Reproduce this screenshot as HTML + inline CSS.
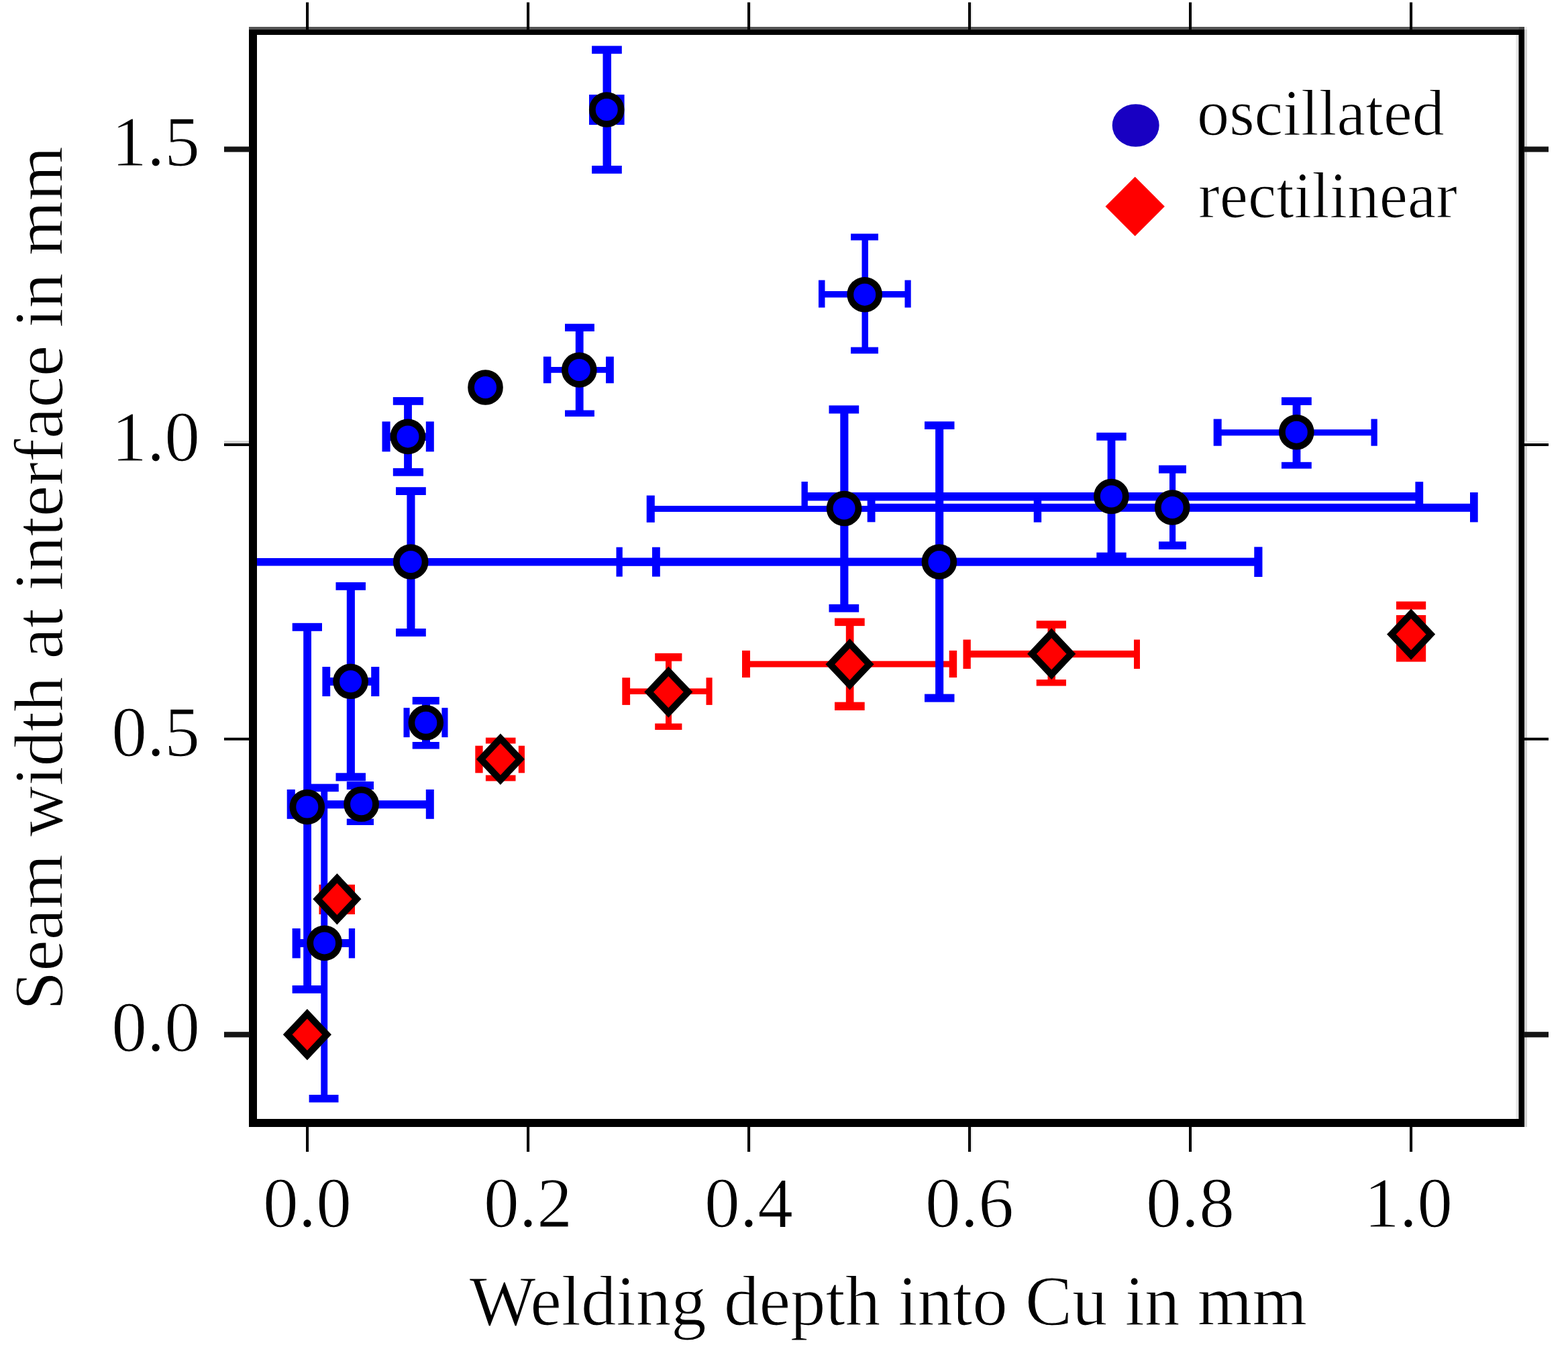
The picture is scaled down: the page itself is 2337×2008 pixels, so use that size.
<!DOCTYPE html>
<html lang="en">
<head>
<meta charset="utf-8">
<title>Seam width at interface vs welding depth into Cu</title>
<style>
html,body{margin:0;padding:0;background:#ffffff;}
body{width:2337px;height:2008px;overflow:hidden;}
svg{display:block;}
</style>
</head>
<body>
<svg width="2337" height="2008" viewBox="0 0 2337 2008">
<rect x="0" y="0" width="2337" height="2008" fill="#ffffff"/>
<g id="errorbars-red">
<rect x="475.5" y="1318.7" width="53.5" height="44.3" fill="#ff0000"/>
<rect x="708.3" y="1111.7" width="11.3" height="40.6" fill="#ff0000"/>
<rect x="772.8" y="1111.7" width="9.2" height="40.6" fill="#ff0000"/>
<rect x="723.9" y="1099.6" width="44.6" height="8.9" fill="#ff0000"/>
<rect x="723.9" y="1155.5" width="44.6" height="8.9" fill="#ff0000"/>
<rect x="712.0" y="1127.0" width="66.0" height="10.0" fill="#ff0000"/>
<rect x="741.0" y="1103.0" width="10.0" height="57.0" fill="#ff0000"/>
<rect x="992.0" y="978.0" width="9.0" height="106.0" fill="#ff0000"/>
<rect x="976.2" y="973.8" width="40.2" height="11.8" fill="#ff0000"/>
<rect x="976.2" y="1078.5" width="40.2" height="9.5" fill="#ff0000"/>
<rect x="933.0" y="1026.3" width="125.0" height="8.7" fill="#ff0000"/>
<rect x="927.3" y="1010.2" width="11.8" height="40.7" fill="#ff0000"/>
<rect x="1052.5" y="1010.2" width="9.1" height="40.7" fill="#ff0000"/>
<rect x="1260.8" y="927.0" width="11.7" height="126.0" fill="#ff0000"/>
<rect x="1244.0" y="921.5" width="44.7" height="11.6" fill="#ff0000"/>
<rect x="1244.0" y="1046.6" width="44.7" height="12.3" fill="#ff0000"/>
<rect x="1112.0" y="985.4" width="308.0" height="9.2" fill="#ff0000"/>
<rect x="1106.0" y="969.8" width="12.0" height="40.2" fill="#ff0000"/>
<rect x="1414.7" y="969.8" width="11.5" height="40.2" fill="#ff0000"/>
<rect x="1561.5" y="931.0" width="11.5" height="87.0" fill="#ff0000"/>
<rect x="1544.7" y="925.3" width="44.3" height="11.5" fill="#ff0000"/>
<rect x="1544.7" y="1013.0" width="44.3" height="9.5" fill="#ff0000"/>
<rect x="1441.0" y="969.8" width="254.0" height="10.4" fill="#ff0000"/>
<rect x="1435.5" y="953.5" width="11.3" height="43.5" fill="#ff0000"/>
<rect x="1690.0" y="953.5" width="9.0" height="43.5" fill="#ff0000"/>
<rect x="2081.0" y="896.6" width="44.2" height="12.0" fill="#ff0000"/>
<rect x="2081.0" y="917.0" width="44.2" height="69.5" fill="#ff0000"/>
</g>
<g id="errorbars-blue">
<rect x="452.2" y="934.0" width="11.8" height="541.0" fill="#0000ff"/>
<rect x="435.7" y="928.8" width="44.3" height="12.0" fill="#0000ff"/>
<rect x="435.6" y="1469.0" width="44.4" height="11.8" fill="#0000ff"/>
<rect x="433.0" y="1193.2" width="208.0" height="12.1" fill="#0000ff"/>
<rect x="427.7" y="1176.9" width="12.1" height="43.9" fill="#0000ff"/>
<rect x="634.8" y="1176.9" width="12.0" height="43.9" fill="#0000ff"/>
<rect x="531.6" y="1170.0" width="12.0" height="56.0" fill="#0000ff"/>
<rect x="516.8" y="1165.0" width="40.2" height="12.0" fill="#0000ff"/>
<rect x="516.8" y="1220.5" width="40.2" height="9.5" fill="#0000ff"/>
<rect x="478.3" y="1174.0" width="9.9" height="464.0" fill="#0000ff"/>
<rect x="462.0" y="1168.6" width="42.8" height="11.6" fill="#0000ff"/>
<rect x="460.6" y="1632.0" width="43.9" height="11.4" fill="#0000ff"/>
<rect x="441.0" y="1400.0" width="84.0" height="12.0" fill="#0000ff"/>
<rect x="435.6" y="1384.0" width="12.1" height="44.4" fill="#0000ff"/>
<rect x="519.8" y="1384.0" width="9.3" height="44.4" fill="#0000ff"/>
<rect x="516.8" y="874.0" width="12.1" height="284.0" fill="#0000ff"/>
<rect x="500.5" y="868.0" width="44.5" height="11.8" fill="#0000ff"/>
<rect x="500.5" y="1152.3" width="44.5" height="12.1" fill="#0000ff"/>
<rect x="486.0" y="1010.0" width="73.0" height="12.0" fill="#0000ff"/>
<rect x="480.4" y="994.0" width="11.8" height="44.0" fill="#0000ff"/>
<rect x="553.2" y="994.0" width="12.1" height="44.0" fill="#0000ff"/>
<rect x="629.0" y="1044.0" width="12.0" height="67.0" fill="#0000ff"/>
<rect x="614.7" y="1038.9" width="40.1" height="11.3" fill="#0000ff"/>
<rect x="614.7" y="1106.0" width="40.1" height="10.5" fill="#0000ff"/>
<rect x="606.0" y="1072.0" width="57.0" height="11.0" fill="#0000ff"/>
<rect x="601.5" y="1055.2" width="9.1" height="43.9" fill="#0000ff"/>
<rect x="658.4" y="1055.2" width="9.1" height="43.9" fill="#0000ff"/>
<rect x="602.1" y="598.0" width="11.8" height="106.0" fill="#0000ff"/>
<rect x="585.8" y="592.0" width="45.2" height="11.8" fill="#0000ff"/>
<rect x="585.8" y="697.9" width="45.2" height="11.8" fill="#0000ff"/>
<rect x="575.0" y="645.5" width="66.0" height="11.5" fill="#0000ff"/>
<rect x="569.5" y="628.4" width="12.1" height="44.9" fill="#0000ff"/>
<rect x="634.8" y="628.4" width="12.0" height="44.9" fill="#0000ff"/>
<rect x="606.4" y="732.0" width="12.1" height="211.0" fill="#0000ff"/>
<rect x="590.0" y="726.2" width="44.8" height="11.8" fill="#0000ff"/>
<rect x="590.0" y="937.0" width="44.8" height="11.8" fill="#0000ff"/>
<rect x="383.0" y="832.0" width="595.0" height="11.5" fill="#0000ff"/>
<rect x="972.0" y="815.7" width="11.8" height="43.9" fill="#0000ff"/>
<rect x="857.8" y="488.0" width="11.8" height="128.0" fill="#0000ff"/>
<rect x="842.0" y="482.7" width="43.9" height="11.3" fill="#0000ff"/>
<rect x="842.0" y="611.5" width="43.9" height="9.5" fill="#0000ff"/>
<rect x="815.0" y="547.0" width="94.0" height="8.8" fill="#0000ff"/>
<rect x="809.9" y="531.6" width="11.5" height="39.7" fill="#0000ff"/>
<rect x="903.0" y="531.6" width="11.8" height="39.7" fill="#0000ff"/>
<rect x="898.5" y="74.0" width="12.5" height="179.0" fill="#0000ff"/>
<rect x="882.1" y="68.4" width="44.7" height="11.8" fill="#0000ff"/>
<rect x="882.1" y="247.0" width="44.7" height="11.8" fill="#0000ff"/>
<rect x="878.0" y="141.1" width="12.0" height="45.0" fill="#0000ff"/>
<rect x="918.5" y="141.1" width="12.1" height="45.0" fill="#0000ff"/>
<rect x="884.0" y="158.0" width="41.0" height="11.0" fill="#0000ff"/>
<rect x="1284.5" y="353.0" width="9.5" height="170.0" fill="#0000ff"/>
<rect x="1268.1" y="348.4" width="40.9" height="9.9" fill="#0000ff"/>
<rect x="1268.1" y="517.5" width="40.9" height="9.7" fill="#0000ff"/>
<rect x="1224.0" y="434.0" width="130.0" height="9.5" fill="#0000ff"/>
<rect x="1220.0" y="417.6" width="9.5" height="40.9" fill="#0000ff"/>
<rect x="1348.5" y="417.6" width="9.2" height="40.9" fill="#0000ff"/>
<rect x="1252.3" y="610.0" width="12.1" height="297.0" fill="#0000ff"/>
<rect x="1235.5" y="604.4" width="44.7" height="12.1" fill="#0000ff"/>
<rect x="1235.5" y="900.8" width="44.7" height="11.8" fill="#0000ff"/>
<rect x="969.0" y="754.0" width="578.0" height="9.0" fill="#0000ff"/>
<rect x="963.7" y="738.6" width="12.1" height="40.2" fill="#0000ff"/>
<rect x="1540.7" y="738.6" width="11.5" height="40.0" fill="#0000ff"/>
<rect x="1394.1" y="634.0" width="12.1" height="406.0" fill="#0000ff"/>
<rect x="1378.0" y="628.3" width="44.5" height="11.7" fill="#0000ff"/>
<rect x="1378.0" y="1034.6" width="44.5" height="12.0" fill="#0000ff"/>
<rect x="923.0" y="831.5" width="952.0" height="12.2" fill="#0000ff"/>
<rect x="918.5" y="815.7" width="9.3" height="43.9" fill="#0000ff"/>
<rect x="1869.3" y="815.3" width="12.2" height="44.7" fill="#0000ff"/>
<rect x="1650.6" y="650.0" width="11.8" height="179.0" fill="#0000ff"/>
<rect x="1634.3" y="644.9" width="44.4" height="11.8" fill="#0000ff"/>
<rect x="1634.3" y="823.6" width="44.4" height="10.4" fill="#0000ff"/>
<rect x="1199.0" y="734.0" width="916.0" height="12.5" fill="#0000ff"/>
<rect x="1194.5" y="718.0" width="9.4" height="44.0" fill="#0000ff"/>
<rect x="2109.4" y="718.2" width="11.8" height="43.8" fill="#0000ff"/>
<rect x="1743.0" y="699.0" width="9.2" height="114.0" fill="#0000ff"/>
<rect x="1727.0" y="693.6" width="41.0" height="12.0" fill="#0000ff"/>
<rect x="1727.0" y="807.3" width="41.0" height="11.7" fill="#0000ff"/>
<rect x="1298.0" y="750.8" width="899.0" height="12.1" fill="#0000ff"/>
<rect x="1292.7" y="734.5" width="11.8" height="43.8" fill="#0000ff"/>
<rect x="2191.0" y="734.0" width="11.7" height="44.4" fill="#0000ff"/>
<rect x="1926.6" y="598.0" width="11.8" height="96.0" fill="#0000ff"/>
<rect x="1910.0" y="592.2" width="44.8" height="11.8" fill="#0000ff"/>
<rect x="1910.0" y="688.8" width="44.8" height="9.8" fill="#0000ff"/>
<rect x="1814.0" y="640.2" width="234.0" height="9.2" fill="#0000ff"/>
<rect x="1808.7" y="624.6" width="12.0" height="40.1" fill="#0000ff"/>
<rect x="2043.5" y="624.6" width="9.3" height="40.1" fill="#0000ff"/>
</g>
<g id="markers-blue" fill="#0000ff" stroke="#000" stroke-width="9.8">
<circle cx="457.8" cy="1203.0" r="21.4"/>
<circle cx="538.6" cy="1198.8" r="21.4"/>
<circle cx="483.6" cy="1405.9" r="21.4"/>
<circle cx="522.6" cy="1015.8" r="21.4"/>
<circle cx="634.8" cy="1077.3" r="21.4"/>
<circle cx="607.9" cy="650.9" r="21.4"/>
<circle cx="612.2" cy="837.5" r="21.4"/>
<circle cx="723.5" cy="577.5" r="21.4"/>
<circle cx="863.3" cy="551.5" r="21.4"/>
<circle cx="904.2" cy="163.5" r="21.4"/>
<circle cx="1288.7" cy="439.2" r="21.4"/>
<circle cx="1258.1" cy="758.0" r="21.4"/>
<circle cx="1399.9" cy="837.5" r="21.4"/>
<circle cx="1656.4" cy="740.0" r="21.4"/>
<circle cx="1747.2" cy="756.5" r="21.4"/>
<circle cx="1932.3" cy="644.2" r="21.4"/>
</g>
<g id="markers-red" fill="#ff0000" stroke="#000" stroke-width="10" stroke-linejoin="miter">
<path d="M428.7 1542.3L457.9 1511.4L487.1 1542.3L457.9 1573.2Z"/>
<path d="M473.2 1340.2L502.4 1309.3L531.6 1340.2L502.4 1371.1Z"/>
<path d="M716.7 1131.8L745.9 1100.9L775.1 1131.8L745.9 1162.7Z"/>
<path d="M967.1 1031.6L996.3 1000.7L1025.5 1031.6L996.3 1062.5Z"/>
<path d="M1237.3 990.2L1266.5 959.3L1295.7 990.2L1266.5 1021.1Z"/>
<path d="M1538.0 974.7L1567.2 943.8L1596.4 974.7L1567.2 1005.6Z"/>
<path d="M2073.9 945.6L2103.1 914.7L2132.3 945.6L2103.1 976.5Z"/>
</g>
<g id="frame">
<rect x="371.0" y="43.6" width="1901.0" height="8.4" fill="#000"/>
<rect x="371.0" y="1668.0" width="1901.0" height="12.0" fill="#000"/>
<rect x="371.0" y="40.0" width="12.0" height="1640.0" fill="#000"/>
<rect x="2259.4" y="52.0" width="4.2" height="1616.0" fill="#e6e6e6"/>
<rect x="2271.8" y="40.0" width="4.2" height="4.0" fill="#ececec"/>
<rect x="2271.8" y="44.0" width="4.2" height="1636.0" fill="#d2d2d2"/>
<rect x="2263.5" y="40.0" width="8.5" height="1640.0" fill="#000"/>
<rect x="371.0" y="40.0" width="1892.5" height="4.2" fill="#555555"/>
<rect x="2263.5" y="40.0" width="8.5" height="4.2" fill="#444444"/>
<rect x="456.0" y="3.5" width="4.0" height="41.0" fill="#000"/>
<rect x="456.0" y="1679.0" width="4.0" height="38.0" fill="#000"/>
<rect x="460.0" y="3.5" width="2.0" height="36.5" fill="#e8e8e8"/>
<rect x="460.0" y="1680.0" width="2.0" height="37.0" fill="#e8e8e8"/>
<rect x="785.0" y="3.5" width="4.0" height="41.0" fill="#000"/>
<rect x="785.0" y="1679.0" width="4.0" height="38.0" fill="#000"/>
<rect x="789.0" y="3.5" width="2.0" height="36.5" fill="#e8e8e8"/>
<rect x="789.0" y="1680.0" width="2.0" height="37.0" fill="#e8e8e8"/>
<rect x="1114.0" y="3.5" width="4.0" height="41.0" fill="#000"/>
<rect x="1114.0" y="1679.0" width="4.0" height="38.0" fill="#000"/>
<rect x="1118.0" y="3.5" width="2.0" height="36.5" fill="#e8e8e8"/>
<rect x="1118.0" y="1680.0" width="2.0" height="37.0" fill="#e8e8e8"/>
<rect x="1443.0" y="3.5" width="4.0" height="41.0" fill="#000"/>
<rect x="1443.0" y="1679.0" width="4.0" height="38.0" fill="#000"/>
<rect x="1447.0" y="3.5" width="2.0" height="36.5" fill="#e8e8e8"/>
<rect x="1447.0" y="1680.0" width="2.0" height="37.0" fill="#e8e8e8"/>
<rect x="1772.0" y="3.5" width="4.0" height="41.0" fill="#000"/>
<rect x="1772.0" y="1679.0" width="4.0" height="38.0" fill="#000"/>
<rect x="1776.0" y="3.5" width="2.0" height="36.5" fill="#e8e8e8"/>
<rect x="1776.0" y="1680.0" width="2.0" height="37.0" fill="#e8e8e8"/>
<rect x="2101.0" y="3.5" width="4.0" height="41.0" fill="#000"/>
<rect x="2101.0" y="1679.0" width="4.0" height="38.0" fill="#000"/>
<rect x="2105.0" y="3.5" width="2.0" height="36.5" fill="#e8e8e8"/>
<rect x="2105.0" y="1680.0" width="2.0" height="37.0" fill="#e8e8e8"/>
<rect x="334.0" y="218.5" width="38.0" height="8.1" fill="#141414"/>
<rect x="2271.0" y="218.5" width="37.0" height="8.1" fill="#141414"/>
<rect x="334.0" y="657.0" width="37.0" height="4.0" fill="#d4d4d4"/>
<rect x="2272.0" y="657.5" width="36.0" height="3.5" fill="#ececec"/>
<rect x="334.0" y="661.0" width="38.0" height="4.0" fill="#000"/>
<rect x="2271.0" y="661.0" width="37.0" height="4.0" fill="#000"/>
<rect x="334.0" y="1099.7" width="38.0" height="4.0" fill="#000"/>
<rect x="2271.0" y="1099.7" width="37.0" height="4.0" fill="#000"/>
<rect x="334.0" y="1538.2" width="38.0" height="8.2" fill="#141414"/>
<rect x="2271.0" y="1538.2" width="37.0" height="8.2" fill="#141414"/>
</g>
<g id="labels" fill="#000" stroke="#fff" stroke-width="1.2" font-family="'Liberation Serif', 'DejaVu Serif', serif">
<text x="458.0" y="1829.3" font-size="105.5" text-anchor="middle">0.0</text>
<text x="787.0" y="1829.3" font-size="105.5" text-anchor="middle">0.2</text>
<text x="1116.0" y="1829.3" font-size="105.5" text-anchor="middle">0.4</text>
<text x="1445.0" y="1829.3" font-size="105.5" text-anchor="middle">0.6</text>
<text x="1774.0" y="1829.3" font-size="105.5" text-anchor="middle">0.8</text>
<text x="2099.0" y="1829.3" font-size="105.5" text-anchor="middle">1.0</text>
<text x="298" y="247.0" font-size="105.5" text-anchor="end">1.5</text>
<text x="298" y="686.9" font-size="105.5" text-anchor="end">1.0</text>
<text x="298" y="1126.9" font-size="105.5" text-anchor="end">0.5</text>
<text x="298" y="1566.8" font-size="105.5" text-anchor="end">0.0</text>
<text x="1323.8" y="1974.5" font-size="105" text-anchor="middle">Welding depth into Cu in mm</text>
<text transform="translate(93 862) rotate(-90)" font-size="104.7" text-anchor="middle">Seam width at interface in mm</text>
<text x="1784" y="201" font-size="97" textLength="369" lengthAdjust="spacingAndGlyphs">oscillated</text>
<text x="1786" y="323.5" font-size="97" textLength="386" lengthAdjust="spacingAndGlyphs">rectilinear</text>
</g>
<g id="legend">
<ellipse cx="1692.7" cy="187" rx="35" ry="31.8" fill="#1800c2"/>
<path d="M1647.5 307.8L1691.7 263.6L1735.9 307.8L1691.7 352Z" fill="#ff0000"/>
</g>
</svg>
</body>
</html>
